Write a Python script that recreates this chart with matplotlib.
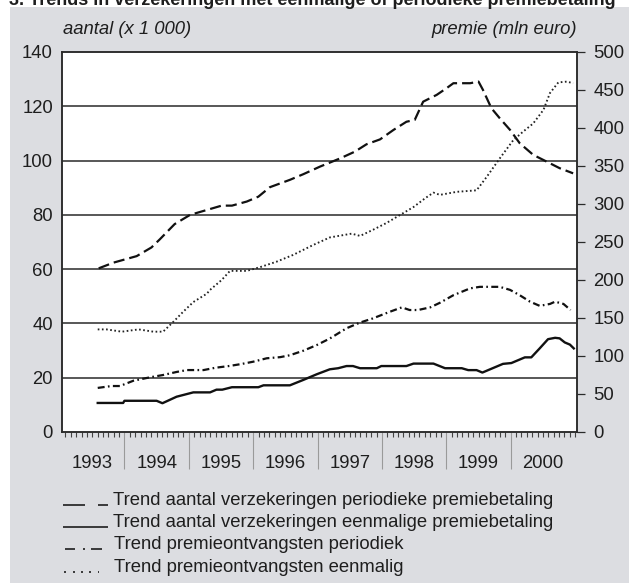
import matplotlib.pyplot as plt
from matplotlib.lines import Line2D
from matplotlib.patches import Rectangle
import matplotlib.transforms as mtransforms

plt.rcParams['font.family'] = ['Liberation Sans', 'DejaVu Sans']
plt.rcParams['lines.scale_dashes'] = False

# aantal verzekeringen (x 1000), linker as
per_aantal_x = [1993.6, 1993.83, 1994.19, 1994.42, 1994.55, 1994.78, 1995.02, 1995.28, 1995.51, 1995.67,
                1995.90, 1996.08, 1996.26, 1996.57, 1996.78, 1997.04, 1997.35, 1997.58, 1997.76, 1997.97,
                1998.18, 1998.38, 1998.51, 1998.64, 1998.85, 1999.00, 1999.11, 1999.37, 1999.50, 1999.57,
                1999.70, 1999.83, 1999.99, 2000.14, 2000.35, 2000.56, 2000.76, 2000.97]
per_aantal = [60.3, 62.4, 64.8, 68.0, 71.0, 76.6, 80.0, 81.8, 83.4, 83.4,
              84.9, 86.7, 90.2, 92.9, 95.0, 97.8, 100.8, 103.3, 106.0, 107.8,
              111.3, 114.3, 115.0, 121.7, 124.2, 126.6, 128.5, 128.5, 129.1, 126.0,
              119.3, 115.6, 111.3, 106.4, 102.1, 99.6, 97.2, 95.3]

een_aantal_x = [1993.585, 1993.98, 1994.0, 1994.5, 1994.59, 1994.81, 1995.07, 1995.33, 1995.43, 1995.52,
                1995.67, 1996.08, 1996.16, 1996.57, 1996.78, 1996.99, 1997.19, 1997.32, 1997.45, 1997.55,
                1997.66, 1997.92, 1997.99, 1998.38, 1998.49, 1998.80, 1998.98, 1999.24, 1999.34, 1999.47,
                1999.56, 1999.68, 1999.88, 2000.01, 2000.22, 2000.32, 2000.45, 2000.58, 2000.69, 2000.76,
                2000.84, 2000.92, 2000.98]
een_aantal = [10.7, 10.7, 11.5, 11.5, 10.6, 13.0, 14.6, 14.6, 15.6, 15.6,
              16.5, 16.5, 17.2, 17.2, 19.2, 21.3, 23.1, 23.5, 24.3, 24.3,
              23.5, 23.5, 24.3, 24.3, 25.2, 25.2, 23.5, 23.5, 22.8, 22.8,
              21.9, 23.1, 25.1, 25.4, 27.5, 27.5, 30.8, 34.2, 34.7, 34.5,
              33.0, 32.2, 30.8]

# premieontvangsten (mln euro), rechter as
per_premie_x = [1993.585, 1993.80, 1993.93, 1994.14, 1994.40, 1994.60, 1994.81, 1994.97, 1995.23, 1995.41,
                1995.64, 1995.82, 1996.0, 1996.21, 1996.42, 1996.57, 1996.78, 1996.99, 1997.19, 1997.45,
                1997.66, 1997.86, 1998.10, 1998.31, 1998.43, 1998.56, 1998.75, 1998.90, 1999.11, 1999.37,
                1999.52, 1999.83, 1999.99, 2000.14, 2000.30, 2000.45, 2000.61, 2000.69, 2000.82, 2000.93]
per_premie = [58, 60.5, 60.5, 67.5, 72, 75, 79, 81.5, 81.5, 84.5,
              87, 89.5, 92.5, 97, 98.5, 101, 107, 114.5, 123, 136.5,
              144, 149.5, 157.5, 164, 160.5, 160.5, 164, 170, 180, 189,
              191, 191, 187, 180, 171.5, 166, 168.5, 171.5, 168.5, 160.5]

een_premie_x = [1993.585, 1993.72, 1993.96, 1994.22, 1994.45, 1994.60, 1994.76, 1994.91, 1995.07, 1995.28,
                1995.33, 1995.51, 1995.64, 1995.90, 1996.11, 1996.36, 1996.62, 1996.93, 1997.19, 1997.53,
                1997.66, 1997.86, 1998.07, 1998.28, 1998.49, 1998.67, 1998.80, 1998.90, 1999.16, 1999.47,
                1999.63, 1999.83, 2000.04, 2000.19, 2000.35, 2000.51, 2000.61, 2000.74, 2000.87, 2000.97]
een_premie = [135, 135, 132, 135, 132, 132, 145, 158, 171, 182,
              187, 200, 212, 212, 217, 224, 233, 246, 256, 261,
              258, 266, 275, 285.5, 296, 307.5, 315, 312, 316, 318,
              336, 360, 384, 395, 406, 424, 446, 460, 461, 459]

years = [1993, 1994, 1995, 1996, 1997, 1998, 1999, 2000]
legend_labels = ['Trend aantal verzekeringen periodieke premiebetaling',
                 'Trend aantal verzekeringen eenmalige premiebetaling',
                 'Trend premieontvangsten periodiek',
                 'Trend premieontvangsten eenmalig']

W, H = 629, 585
FS = 13.3
bg = '#dcdde1'
ink = '#1e1e1e'

fig = plt.figure(figsize=(W / 100, H / 100), dpi=100)
fig.patch.set_facecolor('white')
fig.add_artist(Rectangle((10 / W, 2 / H), 1, (576) / H, transform=fig.transFigure,
                         facecolor=bg, edgecolor='none', zorder=-10))

# titel valt in het origineel grotendeels buiten beeld
fig.text(9 / W, 1 - 5 / H, '3. Trends in verzekeringen met eenmalige of periodieke premiebetaling',
         fontsize=13, fontweight='bold', color=ink, va='baseline', ha='left')

ax = fig.add_axes([62 / W, 1 - 432 / H, (577 - 62) / W, (432 - 52) / H])
ax.set_facecolor('white')
ax.set_xlim(1993.03, 2001.03)
ax.set_ylim(0, 140)
ax.set_yticks(range(0, 141, 20))
ax.tick_params(axis='y', length=0, pad=6.5, labelsize=FS, labelcolor=ink)
for v in range(20, 140, 20):
    ax.axhline(v, color='#2a2a2a', lw=1.1, zorder=1)
for sp in ax.spines.values():
    sp.set_color('#2a2a2a')
    sp.set_linewidth(1.1)

# maandstreepjes en jaarscheidingen onder de as
months = [1993 + i / 12 for i in range(1, 97)]
ax.set_xticks(months, minor=True)
ax.set_xticks([y for y in years[1:]])
ax.set_xticklabels([])
ax.tick_params(axis='x', which='minor', length=3.8, width=0.8, color='#444444')
ax.tick_params(axis='x', which='major', length=26.5, width=0.8, color='#9a9a9a')
trans = mtransforms.blended_transform_factory(ax.transData, ax.transAxes)
for y in years:
    ax.text(y + 0.5, -31 / 380, str(y), transform=trans, ha='center', va='center',
            fontsize=FS, color=ink)

ax.plot(per_aantal_x, per_aantal, color='#111111', lw=1.6, dashes=(8, 3.6), zorder=3)
ax.plot(een_aantal_x, een_aantal, color='#111111', lw=1.7, zorder=3)

ax2 = ax.twinx()
ax2.set_ylim(0, 500)
ax2.set_yticks(range(0, 501, 50))
ax2.tick_params(axis='y', length=5.8, width=0.9, color='#2a2a2a', pad=6, labelsize=FS, labelcolor=ink)
for sp in ax2.spines.values():
    sp.set_color('#2a2a2a')
    sp.set_linewidth(1.1)
ax2.plot(per_premie_x, per_premie, color='#111111', lw=1.6, dashes=(5, 2.4, 1.2, 2.4), zorder=3)
ax2.plot(een_premie_x, een_premie, color='#222222', lw=1.35, dashes=(1.2, 1.8), zorder=3)

fig.text(63 / W, 1 - 30 / H, 'aantal (x 1 000)', fontsize=FS, style='italic', color=ink,
         ha='left', va='center')
fig.text(577 / W, 1 - 30 / H, 'premie (mln euro)', fontsize=FS, style='italic', color=ink,
         ha='right', va='center')

# legenda met handgetekende voorbeeldstreepjes
baselines = [505, 527.3, 549.3, 571.7]
samples = [
    [(63, 85), (98, 108)],
    [(63, 108)],
    [(65, 75), (82.8, 84.6), (91, 102)],
    [(64.4, 66.2), (72.7, 74.5), (81, 82.8), (89.3, 91.1), (97.6, 99.4)],
]
for i, lab in enumerate(legend_labels):
    yb = 1 - baselines[i] / H
    for x0, x1 in samples[i]:
        fig.add_artist(Line2D([x0 / W, x1 / W], [yb, yb], transform=fig.transFigure,
                              color=ink, lw=1.2, solid_capstyle='butt'))
    xt = 113 if i < 2 else 114
    fig.text(xt / W, yb, lab, fontsize=FS, color=ink, ha='left', va='baseline')

fig.savefig('out.png', dpi=100, facecolor=fig.get_facecolor())
